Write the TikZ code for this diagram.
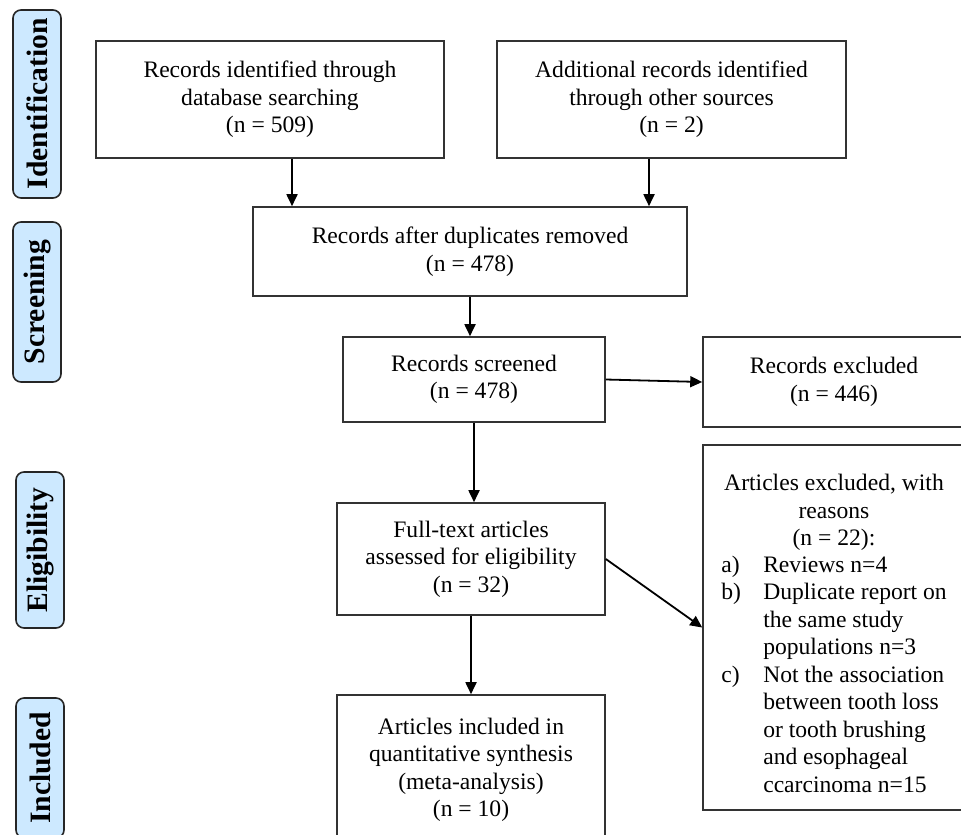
\documentclass[tikz,border=0pt]{standalone}
\usepackage{fontspec}
\setmainfont{Liberation Serif}
\usetikzlibrary{arrows.meta,calc,positioning}
\definecolor{phaseblue}{RGB}{205,233,255}

\begin{document}
\begin{tikzpicture}[x=0.5pt,y=-0.5pt,>={Triangle[length=6pt,width=5.5pt]},
  box/.style={draw=black!80,line width=0.8pt,align=center,inner sep=0pt,
    font=\fontsize{11.8}{13.75}\selectfont},
  phase/.style={draw=black!85,line width=0.8pt,fill=phaseblue,rounded corners=4pt,
    rotate=90,minimum height=24pt,inner sep=0pt,font=\fontsize{14.8}{17}\selectfont\bfseries},
  arr/.style={->,line width=0.9pt}]
\useasboundingbox (0,0) rectangle (961,834);
\clip (0,0) rectangle (961,834);

% phases
\node[phase,minimum width=94pt] (ident) at (37,104) {Identification};
\node[phase,minimum width=80pt] (screen) at (37,302) {Screening};
\node[phase,minimum width=78pt] (elig) at (40,550) {Eligibility};
\node[phase,minimum width=70pt] (incl) at (40,768) {Included};

% flow boxes
\node[box,minimum width=174pt,minimum height=58.5pt] (dbrec) at (270,99.5)
  {Records identified through\\ database searching\\ (n = 509)};
\node[box,minimum width=174.5pt,minimum height=58.5pt] (addrec) at (671.5,99.5)
  {Additional records identified\\ through other sources\\ (n = 2)};
\node[box,minimum width=217pt,minimum height=44.5pt] (dedup) at (470,251.5)
  {Records after duplicates removed\\ (n = 478)};
\node[box,minimum width=131pt,minimum height=42.5pt] (screened) at (474,379.5)
  {Records screened\\ (n = 478)};
\node[box,minimum width=131pt,minimum height=45pt] (recexcl) at (834,382)
  {Records excluded\\ (n = 446)};
\node[box,minimum width=134pt,minimum height=56pt] (fulltext) at (471,559)
  {Full-text articles\\ assessed for eligibility\\ (n = 32)};
\node[box,minimum width=131pt,minimum height=182.5pt] (artexcl) at (834,627.5)
  {\rule{0pt}{18pt}Articles excluded, with\\ reasons\\ (n = 22):\\
   \begin{tabular}{@{}p{21pt}@{}l@{}}
   a) & Reviews n=4\\
   b) & Duplicate report on\\
      & the same study\\
      & populations n=3\\
   c) & Not the association\\
      & between tooth loss\\
      & or tooth brushing\\
      & and esophageal\\
      & ccarcinoma n=15
   \end{tabular}};
\node[box,minimum width=134pt,minimum height=75pt] (incsyn) at (471,770)
  {Articles included in\\ quantitative synthesis\\ (meta-analysis)\\ (n = 10)};

% arrows
\draw[arr] (dbrec.south -| 292,0) -- (dedup.north -| 292,0);
\draw[arr] (addrec.south -| 649,0) -- (dedup.north -| 649,0);
\draw[arr] (dedup.south) -- (dedup.south |- screened.north);
\draw[arr] (screened.south) -- (screened.south |- fulltext.north);
\draw[arr] (fulltext.south) -- (fulltext.south |- incsyn.north);
\draw[arr] (screened.east) -- (recexcl.west);
\draw[arr] (fulltext.east) -- (artexcl.west);
\end{tikzpicture}
\end{document}
